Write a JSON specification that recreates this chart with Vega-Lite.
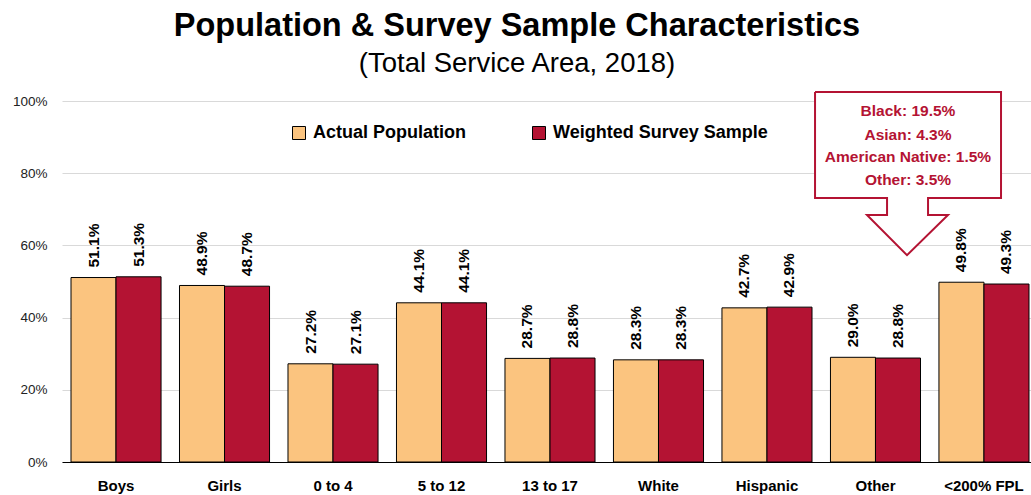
{
  "$schema": "https://vega.github.io/schema/vega-lite/v6.json",
  "width": 976,
  "height": 361,
  "autosize": {"type": "none"},
  "padding": {"left": 62, "top": 101, "right": 0, "bottom": 33},
  "background": "white",
  "config": {"font": "Liberation Sans", "view": {"stroke": null}},
  "title": {
    "text": "Population & Survey Sample Characteristics",
    "subtitle": "(Total Service Area, 2018)",
    "fontSize": 32.5,
    "fontWeight": "bold",
    "color": "black",
    "subtitleFontSize": 27.5,
    "subtitleColor": "black",
    "subtitlePadding": 8,
    "anchor": "middle",
    "dx": -33,
    "offset": 10
  },
  "datasets": {
    "bars": [
      {"category": "Boys", "series": "Actual Population", "value": 0.511},
      {"category": "Boys", "series": "Weighted Survey Sample", "value": 0.513},
      {"category": "Girls", "series": "Actual Population", "value": 0.489},
      {"category": "Girls", "series": "Weighted Survey Sample", "value": 0.487},
      {"category": "0 to 4", "series": "Actual Population", "value": 0.272},
      {"category": "0 to 4", "series": "Weighted Survey Sample", "value": 0.271},
      {"category": "5 to 12", "series": "Actual Population", "value": 0.441},
      {"category": "5 to 12", "series": "Weighted Survey Sample", "value": 0.441},
      {"category": "13 to 17", "series": "Actual Population", "value": 0.287},
      {"category": "13 to 17", "series": "Weighted Survey Sample", "value": 0.288},
      {"category": "White", "series": "Actual Population", "value": 0.283},
      {"category": "White", "series": "Weighted Survey Sample", "value": 0.283},
      {"category": "Hispanic", "series": "Actual Population", "value": 0.427},
      {"category": "Hispanic", "series": "Weighted Survey Sample", "value": 0.429},
      {"category": "Other", "series": "Actual Population", "value": 0.290},
      {"category": "Other", "series": "Weighted Survey Sample", "value": 0.288},
      {"category": "<200% FPL", "series": "Actual Population", "value": 0.498},
      {"category": "<200% FPL", "series": "Weighted Survey Sample", "value": 0.493}
    ],
    "callout": [
      {"order": 1, "cx": 6.944, "cy": 1.025},
      {"order": 2, "cx": 8.659, "cy": 1.025},
      {"order": 3, "cx": 8.659, "cy": 0.731},
      {"order": 4, "cx": 7.986, "cy": 0.731},
      {"order": 5, "cx": 7.986, "cy": 0.684},
      {"order": 6, "cx": 8.170, "cy": 0.684},
      {"order": 7, "cx": 7.792, "cy": 0.573},
      {"order": 8, "cx": 7.423, "cy": 0.684},
      {"order": 9, "cx": 7.608, "cy": 0.684},
      {"order": 10, "cx": 7.608, "cy": 0.731},
      {"order": 11, "cx": 6.944, "cy": 0.731},
      {"order": 12, "cx": 6.944, "cy": 1.025}
    ],
    "notes": [
      {"note": "Black: 19.5%", "nx": 7.801, "ny": 0.971},
      {"note": "Asian: 4.3%", "nx": 7.801, "ny": 0.907},
      {"note": "American Native: 1.5%", "nx": 7.801, "ny": 0.8435},
      {"note": "Other: 3.5%", "nx": 7.801, "ny": 0.780}
    ]
  },
  "layer": [
    {
      "data": {"name": "bars"},
      "encoding": {
        "x": {
          "field": "category",
          "type": "nominal",
          "sort": ["Boys", "Girls", "0 to 4", "5 to 12", "13 to 17", "White", "Hispanic", "Other", "<200% FPL"],
          "scale": {"paddingInner": 0.17, "paddingOuter": 0.083},
          "axis": {
            "title": null,
            "labelAngle": 0,
            "labelFontSize": 15,
            "labelFontWeight": "bold",
            "labelColor": "black",
            "domainColor": "black",
            "domainWidth": 1,
            "ticks": false,
            "labelPadding": 16,
            "grid": false
          }
        },
        "xOffset": {"field": "series", "sort": ["Actual Population", "Weighted Survey Sample"]},
        "y": {
          "field": "value",
          "type": "quantitative",
          "scale": {"domain": [0, 1], "nice": false},
          "axis": {
            "title": null,
            "format": ".0%",
            "values": [0, 0.2, 0.4, 0.6, 0.8, 1],
            "domain": false,
            "ticks": false,
            "labelPadding": 15,
            "labelFontSize": 13.5,
            "labelColor": "#222222",
            "gridColor": "#D9D9D9",
            "gridWidth": 1
          }
        }
      },
      "layer": [
        {
          "mark": {"type": "bar", "stroke": "black", "strokeWidth": 1},
          "encoding": {
            "color": {
              "field": "series",
              "type": "nominal",
              "scale": {"domain": ["Actual Population", "Weighted Survey Sample"], "range": ["#FBC47F", "#B41333"]},
              "legend": {
                "orient": "none",
                "legendX": 228,
                "legendY": 23,
                "direction": "horizontal",
                "title": null,
                "labelFontSize": 18,
                "labelFontWeight": "bold",
                "labelColor": "black",
                "labelLimit": 400,
                "symbolType": "square",
                "symbolSize": 169,
                "symbolStrokeColor": "black",
                "symbolStrokeWidth": 1,
                "columnPadding": 64,
                "labelOffset": 5
              }
            }
          }
        },
        {
          "mark": {"type": "text", "angle": 270, "align": "left", "baseline": "middle", "dx": 10, "fontSize": 15.5, "fontWeight": "bold", "color": "black"},
          "encoding": {"text": {"field": "value", "type": "quantitative", "format": ".1%"}}
        }
      ]
    },
    {
      "data": {"name": "callout"},
      "mark": {"type": "line", "stroke": "#B41333", "strokeWidth": 2, "fill": "white", "strokeJoin": "miter"},
      "encoding": {
        "x": {"field": "cx", "type": "quantitative", "scale": {"domain": [0, 9], "nice": false, "zero": false}, "axis": null},
        "y": {
          "field": "cy",
          "type": "quantitative",
          "scale": {"domain": [0, 1], "nice": false},
          "axis": {
            "title": null,
            "format": ".0%",
            "values": [0, 0.2, 0.4, 0.6, 0.8, 1],
            "domain": false,
            "ticks": false,
            "labelPadding": 15,
            "labelFontSize": 13.5,
            "labelColor": "#222222",
            "gridColor": "#D9D9D9",
            "gridWidth": 1
          }
        },
        "order": {"field": "order", "type": "quantitative"}
      }
    },
    {
      "data": {"name": "notes"},
      "mark": {"type": "text", "align": "center", "baseline": "middle", "fontSize": 15.5, "fontWeight": "bold", "color": "#B41333"},
      "encoding": {
        "x": {"field": "nx", "type": "quantitative", "scale": {"domain": [0, 9], "nice": false, "zero": false}, "axis": null},
        "y": {
          "field": "ny",
          "type": "quantitative",
          "scale": {"domain": [0, 1], "nice": false},
          "axis": {
            "title": null,
            "format": ".0%",
            "values": [0, 0.2, 0.4, 0.6, 0.8, 1],
            "domain": false,
            "ticks": false,
            "labelPadding": 15,
            "labelFontSize": 13.5,
            "labelColor": "#222222",
            "gridColor": "#D9D9D9",
            "gridWidth": 1
          }
        },
        "text": {"field": "note", "type": "nominal"}
      }
    }
  ],
  "resolve": {"scale": {"x": "independent"}}
}
